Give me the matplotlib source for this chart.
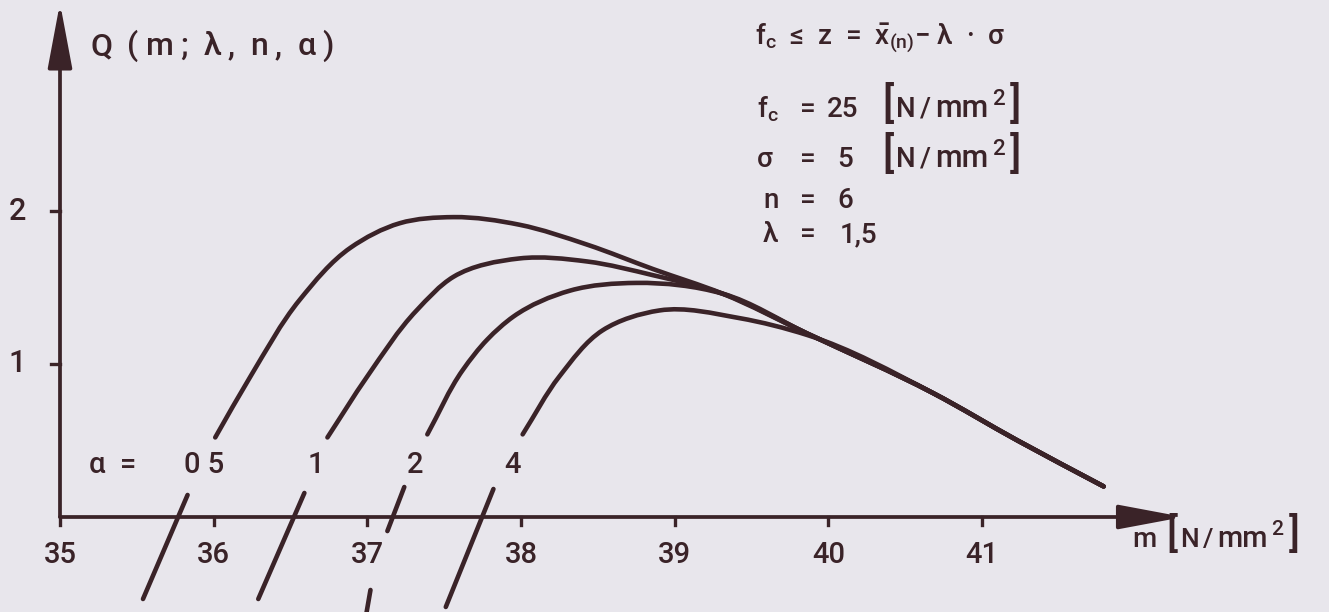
import matplotlib
matplotlib.use("Agg")
import matplotlib.pyplot as plt
from matplotlib.path import Path
from matplotlib.patches import PathPatch

# Q(m; lambda, n, alpha) for alpha = 0.5, 1, 2, 4
alphas = ["0 5", "1", "2", "4"]
tail_m = [39.31, 39.86, 40.68, 41.23, 41.79]
tail_q = [1.46, 1.20, 0.81, 0.50, 0.20]
curve_m = [
    [36.01, 36.24, 36.56, 36.89, 37.21, 37.56, 37.99, 38.43, 38.86] + tail_m,
    [36.74, 37.00, 37.32, 37.56, 37.99, 38.43, 38.86] + tail_m,
    [37.39, 37.62, 37.78, 37.95, 38.32, 38.75] + tail_m,
    [38.01, 38.25, 38.53, 38.90, 39.42, 39.86] + tail_m[2:],
]
curve_q = [
    [0.52, 0.92, 1.42, 1.76, 1.92, 1.96, 1.91, 1.78, 1.62] + tail_q,
    [0.52, 0.92, 1.35, 1.57, 1.69, 1.67, 1.58] + tail_q,
    [0.54, 0.96, 1.16, 1.31, 1.48, 1.53] + tail_q,
    [0.54, 0.92, 1.22, 1.35, 1.30, 1.19] + tail_q[2:],
]

# short slanted strokes crossing the m axis (lower branches)
stub_m = [(35.83, 35.54), (36.59, 36.29), (37.24, 37.13), (37.02, 36.99), (37.82, 37.51)]
stub_q = [(0.144, -0.536), (0.157, -0.536), (0.196, -0.092), (-0.477, -0.65), (0.183, -0.588)]

x_ticks = [35, 36, 37, 38, 39, 40, 41]
y_ticks = [1, 2]
alpha_label_m = [35.81, 36.61, 37.26, 37.89]

ink = "#3a2328"
paper = "#e8e6ec"
plt.rcParams["font.family"] = ["Roboto", "DejaVu Sans"]
plt.rcParams["font.weight"] = "medium"
plt.rcParams["mathtext.default"] = "regular"

fig = plt.figure(figsize=(13.29, 6.12), dpi=100, facecolor=paper)
ax = fig.add_axes([0, 0, 1, 1])
ax.set_facecolor(paper)
ax.set_xlim(35 - 60 / 153.7, 35 + 1269 / 153.7)
ax.set_ylim(-95 / 153, 517 / 153)
ax.axis("off")


def py(p):
    # pixel row of the drawing -> Q value
    return (517 - p) / 153


def px(p):
    # pixel column of the drawing -> m value
    return 35 + (p - 60) / 153.7


def smooth_path(xs, ys):
    # chord-length Catmull-Rom through the read points, as cubic beziers
    pts = list(zip(xs, ys))
    n = len(pts)
    d = [((pts[i + 1][0] - pts[i][0]) ** 2 + (pts[i + 1][1] - pts[i][1]) ** 2) ** 0.5
         for i in range(n - 1)]
    tang = []
    for i in range(n):
        if i == 0:
            tang.append(((pts[1][0] - pts[0][0]) / d[0], (pts[1][1] - pts[0][1]) / d[0]))
        elif i == n - 1:
            tang.append(((pts[-1][0] - pts[-2][0]) / d[-1], (pts[-1][1] - pts[-2][1]) / d[-1]))
        else:
            a, b = d[i - 1], d[i]
            # weighted mix of the two neighbouring chord directions
            tx = (b * (pts[i][0] - pts[i - 1][0]) / a + a * (pts[i + 1][0] - pts[i][0]) / b) / (a + b)
            ty = (b * (pts[i][1] - pts[i - 1][1]) / a + a * (pts[i + 1][1] - pts[i][1]) / b) / (a + b)
            tang.append((tx, ty))
    verts = [pts[0]]
    codes = [Path.MOVETO]
    for i in range(n - 1):
        h = d[i] / 3
        c1 = (pts[i][0] + tang[i][0] * h, pts[i][1] + tang[i][1] * h)
        c2 = (pts[i + 1][0] - tang[i + 1][0] * h, pts[i + 1][1] - tang[i + 1][1] * h)
        verts += [c1, c2, pts[i + 1]]
        codes += [Path.CURVE4] * 3
    return Path(verts, codes)


def spaced(x, y, s, size, track=2.0, gap=5.0):
    # letter-spaced text: glyphs chained left to right, a blank adds `gap` points
    prev, extra = None, 0.0
    for ch in s:
        if ch == " ":
            extra += gap
            continue
        if prev is None:
            prev = ax.annotate(ch, xy=(x, y), xytext=(extra, 0), textcoords="offset points",
                               fontsize=size, color=ink, va="baseline")
        else:
            prev = ax.annotate(ch, xy=(1, y), xycoords=(prev, "data"), xytext=(track + extra, 0),
                               textcoords="offset points", fontsize=size, color=ink, va="baseline")
        extra = 0.0
    return prev


def unit_label(x, y, size=20, bracket=30):
    # [N/mm^2] with tall brackets
    t = ax.text(x, y, "[", fontsize=bracket, color=ink, va="baseline")
    t = ax.annotate("N", xy=(1, y), xycoords=(t, "data"), xytext=(2, 0),
                    textcoords="offset points", fontsize=size, color=ink, va="baseline")
    t = ax.annotate("/", xy=(1, y), xycoords=(t, "data"), xytext=(3, 0),
                    textcoords="offset points", fontsize=size, color=ink, va="baseline")
    t = ax.annotate("mm", xy=(1, y), xycoords=(t, "data"), xytext=(3, 0),
                    textcoords="offset points", fontsize=size * 1.1, color=ink, va="baseline")
    t = ax.annotate("2", xy=(1, y + 0.08), xycoords=(t, "data"), xytext=(2.5, 0),
                    textcoords="offset points", fontsize=size * 0.8, color=ink, va="baseline")
    ax.annotate("]", xy=(1, y), xycoords=(t, "data"), xytext=(4, 0),
                textcoords="offset points", fontsize=bracket, color=ink, va="baseline")


for ms, qs in zip(curve_m, curve_q):
    ax.add_patch(PathPatch(smooth_path(ms, qs), fill=False, ec=ink, lw=3.3,
                           capstyle="round", joinstyle="round"))

for ms, qs in zip(stub_m, stub_q):
    ax.plot(ms, qs, color=ink, lw=3.3, solid_capstyle="round")

# axes with arrow heads
arrow = dict(arrowstyle="-|>,head_length=1.6,head_width=0.3", color=ink, lw=2.7,
             mutation_scale=25, shrinkA=0, shrinkB=0)
ax.annotate("", xy=(42.31, 0), xytext=(35, 0), arrowprops=arrow)
ax.annotate("", xy=(35, 3.36), xytext=(35, 0), arrowprops=arrow)

for t in x_ticks:
    ax.plot([t, t], [0, -0.055], color=ink, lw=2.4)
    ax.text(t, py(563), str(t), ha="center", va="baseline", fontsize=21, color=ink)
for t in y_ticks:
    ax.plot([34.94, 35], [t, t], color=ink, lw=2.4)
    ax.text(34.72, t, str(t), ha="center", va="center", fontsize=22, color=ink)

spaced(px(90), py(55), "Q (m; λ, n, α)", 23, track=5, gap=6)
ax.text(px(1132), py(547), "m", fontsize=20, color=ink, va="baseline")
unit_label(px(1166), py(547), size=19, bracket=29)

ax.text(px(89), py(473), "α  =", fontsize=21, color=ink, va="baseline")
for lab, m in zip(alphas, alpha_label_m):
    ax.text(m, py(473), lab, fontsize=21, color=ink, va="baseline")

# parameter block
ax.text(px(755), py(44), r"$f_c$  ≤  z  =  $\bar{x}_{(n)}$− λ  ·  σ", fontsize=20, color=ink,
        va="baseline")
rows = [(r"$f_c$", "25", True), ("σ", "5", True), ("n", "6", False), ("λ", "1,5", False)]
row_base = [117, 167, 208, 242]
sym_x = [757, 757, 763, 763]
val_x = [827, 837, 837, 840]
for (sym, val, unit), b, sx, vx in zip(rows, row_base, sym_x, val_x):
    ax.text(px(sx), py(b), sym, fontsize=20, color=ink, va="baseline")
    ax.text(px(800), py(b), "=", fontsize=20, color=ink, va="baseline")
    ax.text(px(vx), py(b), val, fontsize=20, color=ink, va="baseline")
    if unit:
        unit_label(px(882), py(b))

fig.savefig("out.png", dpi=100, facecolor=paper)
